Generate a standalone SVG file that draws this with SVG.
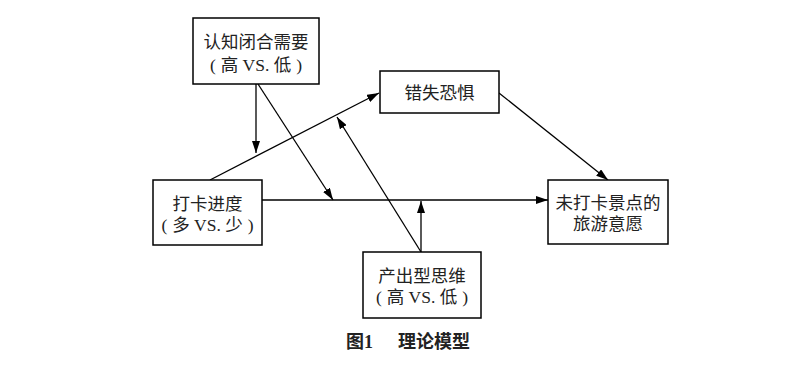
<svg xmlns="http://www.w3.org/2000/svg" width="807" height="371" viewBox="0 0 807 371">
<style>
.box{fill:#fff;stroke:#000;stroke-width:1.5}
.t{font-family:"Liberation Serif","Noto Sans CJK SC",serif;font-size:17.5px;fill:#222;text-anchor:middle}
.c{font-family:"Liberation Serif","Noto Sans CJK SC",serif;font-size:18px;font-weight:bold;fill:#222}
.e{fill:none;stroke:#000;stroke-width:1.3}
</style>
<defs>
<marker id="a" viewBox="0 0 12 8" refX="12" refY="4" markerWidth="12" markerHeight="8" markerUnits="userSpaceOnUse" orient="auto">
<path d="M0,0 L12,4 L0,8 Z" fill="#000"/>
</marker>
</defs>
<rect width="807" height="371" fill="#fff"/>
<g id="connectors">
<line class="e" x1="256" y1="84" x2="256" y2="153" marker-end="url(#a)"/>
<line class="e" x1="210" y1="180" x2="379" y2="93" marker-end="url(#a)"/>
<line class="e" x1="258" y1="84" x2="333" y2="200" marker-end="url(#a)"/>
<line class="e" x1="262" y1="200" x2="548" y2="200" marker-end="url(#a)"/>
<line class="e" x1="421" y1="252" x2="421" y2="201" marker-end="url(#a)"/>
<line class="e" x1="421" y1="252" x2="337" y2="117" marker-end="url(#a)"/>
<line class="e" x1="499" y1="93" x2="608" y2="180" marker-end="url(#a)"/>
</g>
<g id="n1">
<rect class="box" x="193" y="18" width="126" height="66"/>
<text class="t" x="256" y="48">认知闭合需要</text>
<text class="t" x="256" y="71">(<tspan dx="5">高 VS. 低</tspan><tspan dx="5">)</tspan></text>
</g>
<g id="n2">
<rect class="box" x="153" y="180" width="109" height="65"/>
<text class="t" x="207.5" y="210">打卡进度</text>
<text class="t" x="207.5" y="231">(<tspan dx="5">多 VS. 少</tspan><tspan dx="5">)</tspan></text>
</g>
<g id="n3">
<rect class="box" x="380" y="71" width="119" height="42"/>
<text class="t" x="439.5" y="99">错失恐惧</text>
</g>
<g id="n4">
<rect class="box" x="548" y="180" width="120" height="64"/>
<text class="t" x="608" y="209">未打卡景点的</text>
<text class="t" x="608" y="230">旅游意愿</text>
</g>
<g id="n5">
<rect class="box" x="363" y="252" width="118" height="66"/>
<text class="t" x="422" y="282">产出型思维</text>
<text class="t" x="422" y="303">(<tspan dx="5">高 VS. 低</tspan><tspan dx="5">)</tspan></text>
</g>
<g id="caption">
<text class="c" x="346" y="348">图1</text>
<text class="c" x="398" y="348">理论模型</text>
</g>
</svg>
